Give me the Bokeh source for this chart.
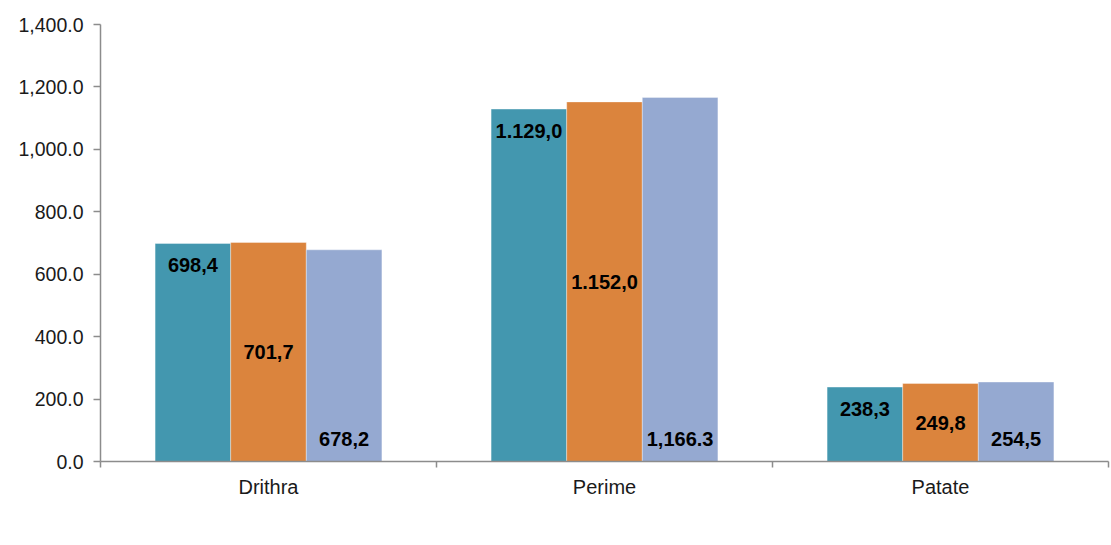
from bokeh.plotting import figure
from bokeh.models import (ColumnDataSource, FactorRange, Range1d, LinearAxis, CategoricalAxis,
                          FixedTicker, NumeralTickFormatter, LabelSet, Legend, LegendItem)
from bokeh.core.properties import value
from bokeh.transform import dodge
from bokeh.embed import file_html
from bokeh.resources import INLINE

cats = ["Drithra", "Perime", "Patate"]
years = ["2016", "2017", "2018"]
v2016 = [698.4, 1129.0, 238.3]
v2017 = [701.7, 1152.0, 249.8]
v2018 = [678.2, 1166.3, 254.5]
l2016 = ["698,4", "1.129,0", "238,3"]
l2017 = ["701,7", "1.152,0", "249,8"]
l2018 = ["678,2", "1,166.3", "254,5"]
y_ticks = [0, 200, 400, 600, 800, 1000, 1200, 1400]

colors = ["#4397AF", "#DB843D", "#95A9D1"]
FONT = "Liberation Sans"
GREY = "#8C8C8C"

src = ColumnDataSource(dict(
    cat=cats, v2016=v2016, v2017=v2017, v2018=v2018,
    l2016=l2016, l2017=l2017, l2018=l2018,
    mid2017=[v / 2 for v in v2017], zero=[0] * len(cats),
))

p = figure(x_range=FactorRange(*cats), y_range=Range1d(0, 1400),
           frame_width=1008, frame_height=437,
           min_border_left=100, min_border_top=24, min_border_right=2, min_border_bottom=0,
           output_backend="svg", toolbar_location=None, x_axis_location=None)
p.outline_line_color = None
p.xgrid.visible = False
p.ygrid.visible = False

# y axis
ya = p.yaxis[0]
ya.ticker = FixedTicker(ticks=y_ticks)
ya.formatter = NumeralTickFormatter(format="0,0.0")
ya.axis_line_color = GREY
ya.axis_line_width = 1.5
ya.major_tick_line_color = GREY
ya.major_tick_line_width = 1.5
ya.major_tick_out = 7
ya.major_tick_in = 0
ya.minor_tick_line_color = None
ya.major_label_text_font = FONT
ya.major_label_text_font_size = "19.5px"
ya.major_label_text_color = "#1a1a1a"
ya.major_label_standoff = 10

# separator ticks at category boundaries (synthetic coordinates of the factor range)
sep = LinearAxis(ticker=FixedTicker(ticks=list(range(len(cats) + 1))))
sep.axis_line_color = GREY
sep.axis_line_width = 1.5
sep.major_tick_line_color = GREY
sep.major_tick_line_width = 1.5
sep.major_tick_out = 6
sep.major_tick_in = 0
sep.minor_tick_line_color = None
sep.major_label_text_font_size = "0px"
sep.major_label_text_color = None
sep.major_label_standoff = 0
p.add_layout(sep, "below")

cax = CategoricalAxis()
cax.axis_line_color = None
cax.major_tick_line_color = None
cax.minor_tick_line_color = None
cax.major_label_text_font = FONT
cax.major_label_text_font_size = "20px"
cax.major_label_text_color = "#1a1a1a"
cax.major_label_standoff = 2
p.add_layout(cax, "below")

W = 0.225
offsets = [-W, 0.0, W]
fields = ["v2016", "v2017", "v2018"]
renderers = []
for f, off, c in zip(fields, offsets, colors):
    r = p.vbar(x=dodge("cat", off, range=p.x_range), top=f, width=W, source=src,
               fill_color=c, line_color="white", line_width=0.6, line_alpha=0.6)
    renderers.append(r)

common = dict(source=src, text_font=value(FONT), text_font_size=value("20px"),
              text_font_style="bold", text_color="black", text_align="center")
p.add_layout(LabelSet(x=dodge("cat", offsets[0], range=p.x_range), y="v2016", text="l2016",
                      text_baseline="top", y_offset=-15, **common))
p.add_layout(LabelSet(x=dodge("cat", offsets[1], range=p.x_range), y="mid2017", text="l2017",
                      text_baseline="middle", **common))
p.add_layout(LabelSet(x=dodge("cat", offsets[2], range=p.x_range), y="zero", text="l2018",
                      text_baseline="middle", y_offset=23, **common))

legend = Legend(items=[LegendItem(label=y, renderers=[r]) for y, r in zip(years, renderers)],
                orientation="horizontal", location="center")
legend.glyph_width = 12
legend.glyph_height = 12
legend.label_standoff = 5
legend.label_height = 18
legend.spacing = 20
legend.padding = 0
legend.margin = 0
legend.border_line_color = None
legend.background_fill_alpha = 0
legend.label_text_font = FONT
legend.label_text_font_size = "20px"
legend.label_text_color = "#1a1a1a"
p.add_layout(legend, "below")

open("out.html", "w").write(file_html(p, INLINE))
